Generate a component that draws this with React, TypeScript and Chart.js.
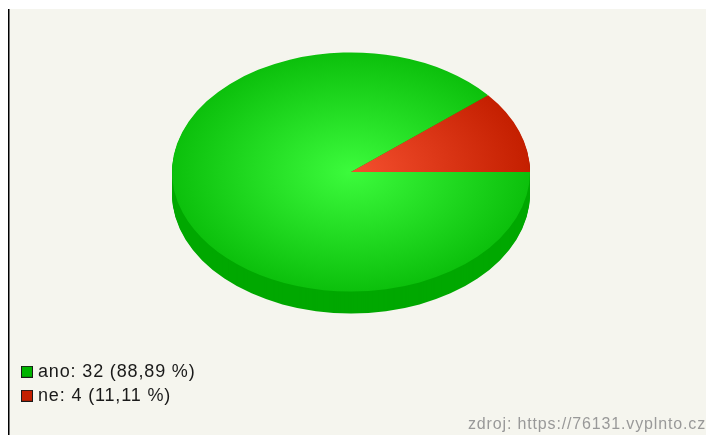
import React, { useEffect, useRef } from "react";
import { Chart, registerables } from "chart.js";

Chart.register(...registerables);

const categories = ["ano", "ne"];
const counts = [32, 4];
const shares = ["88,89", "11,11"];
const legendLabels = categories.map((c, i) => `${c}: ${counts[i]} (${shares[i]} %)`);
const sourceNote = "zdroj: https://76131.vyplnto.cz";
const innerColors = ["#3cfb3c", "#f5502f"];
const outerColors = ["#0cc00c", "#c41f00"];
const legendColors = ["#00b400", "#c41f00"];
const sideColors = ["#00a800", "#a01800"];

const PIE_X = 351;
const PIE_Y = 172;
const RADIUS = 179;
const SQUASH = 119.5 / 179;
const DEPTH = 22;
const LETTER_SPACING = "0.85px";

const swatch = (fill: string) => {
  const c = document.createElement("canvas");
  c.width = 12;
  c.height = 12;
  const g = c.getContext("2d")!;
  g.fillStyle = "#1a1a1a";
  g.fillRect(0, 0, 12, 12);
  g.fillStyle = fill;
  g.fillRect(1, 1, 10, 10);
  return c;
};

const spacingPlugin = {
  id: "spacing",
  beforeUpdate(chart: any) {
    chart.ctx.letterSpacing = LETTER_SPACING;
  },
  beforeLayout(chart: any) {
    chart.ctx.letterSpacing = LETTER_SPACING;
  },
  beforeDraw(chart: any) {
    chart.ctx.letterSpacing = LETTER_SPACING;
  },
};

const tiltPlugin = {
  id: "tilt",
  beforeDatasetsDraw(chart: any) {
    const ctx = chart.ctx;
    const area = chart.chartArea;
    const ax = (area.left + area.right) / 2;
    const ay = (area.top + area.bottom) / 2;
    ctx.save();
    ctx.translate(PIE_X, PIE_Y);
    ctx.scale(1, SQUASH);
    ctx.translate(-ax, -ay);
    const arcs = chart.getDatasetMeta(0).data;
    for (let d = DEPTH; d > 0; d--) {
      arcs.forEach((arc: any, i: number) => {
        ctx.fillStyle = sideColors[i];
        ctx.beginPath();
        ctx.moveTo(arc.x, arc.y + d / SQUASH);
        ctx.arc(arc.x, arc.y + d / SQUASH, arc.outerRadius, arc.startAngle, arc.endAngle);
        ctx.closePath();
        ctx.fill();
      });
    }
  },
  afterDatasetsDraw(chart: any) {
    chart.ctx.restore();
  },
};

export default function App() {
  const ref = useRef<HTMLCanvasElement>(null);
  useEffect(() => {
    const swatches = legendColors.map(swatch);
    const chart = new Chart(ref.current!, {
      type: "pie",
      data: {
        labels: legendLabels,
        datasets: [
          {
            data: counts,
            borderWidth: 0,
            clip: false,
            radius: RADIUS,
            backgroundColor: (c: any) => {
              const area = c.chart.chartArea;
              if (!area) return legendColors[c.dataIndex];
              const x = (area.left + area.right) / 2;
              const y = (area.top + area.bottom) / 2;
              const g = c.chart.ctx.createRadialGradient(x, y, 0, x, y, RADIUS);
              g.addColorStop(0, innerColors[c.dataIndex]);
              g.addColorStop(1, outerColors[c.dataIndex]);
              return g;
            },
          } as any,
        ],
      },
      options: {
        animation: false,
        responsive: false,
        rotation: 90,
        layout: { padding: { left: 19, right: 6, top: 0, bottom: 0 } },
        plugins: {
          tooltip: { enabled: false },
          legend: {
            position: "left",
            align: "end",
            fullSize: false,
            labels: {
              usePointStyle: true,
              pointStyleWidth: 4,
              boxHeight: 12,
              padding: 6,
              color: "#1a1a1a",
              font: { family: "'Liberation Sans'", size: 18 },
              generateLabels: () =>
                legendLabels.map((text, i) => ({
                  text,
                  fillStyle: legendColors[i],
                  strokeStyle: "#1a1a1a",
                  lineWidth: 0,
                  pointStyle: swatches[i],
                  hidden: false,
                  index: i,
                  fontColor: "#1a1a1a",
                })),
            },
          },
          title: {
            display: true,
            text: sourceNote,
            position: "bottom",
            align: "end",
            color: "#999999",
            font: { family: "'Liberation Sans'", size: 16, weight: "normal" },
            padding: { top: 4, bottom: 1 },
          },
        },
      },
      plugins: [spacingPlugin, tiltPlugin],
    } as any);
    return () => chart.destroy();
  }, []);
  return (
    <div style={{ position: "fixed", left: 0, top: 0, width: 712, height: 435, background: "#ffffff", overflow: "hidden" }}>
      <div style={{ position: "absolute", left: 8, top: 9, width: 698, height: 426, background: "#f5f5ee", borderLeft: "1px solid #000", boxSizing: "border-box" }} />
      <div style={{ position: "absolute", left: 9, top: 9, width: 1, height: 426, background: "#777777" }} />
      <canvas ref={ref} width={712} height={435} style={{ position: "absolute", left: 0, top: 0 }} />
    </div>
  );
}
